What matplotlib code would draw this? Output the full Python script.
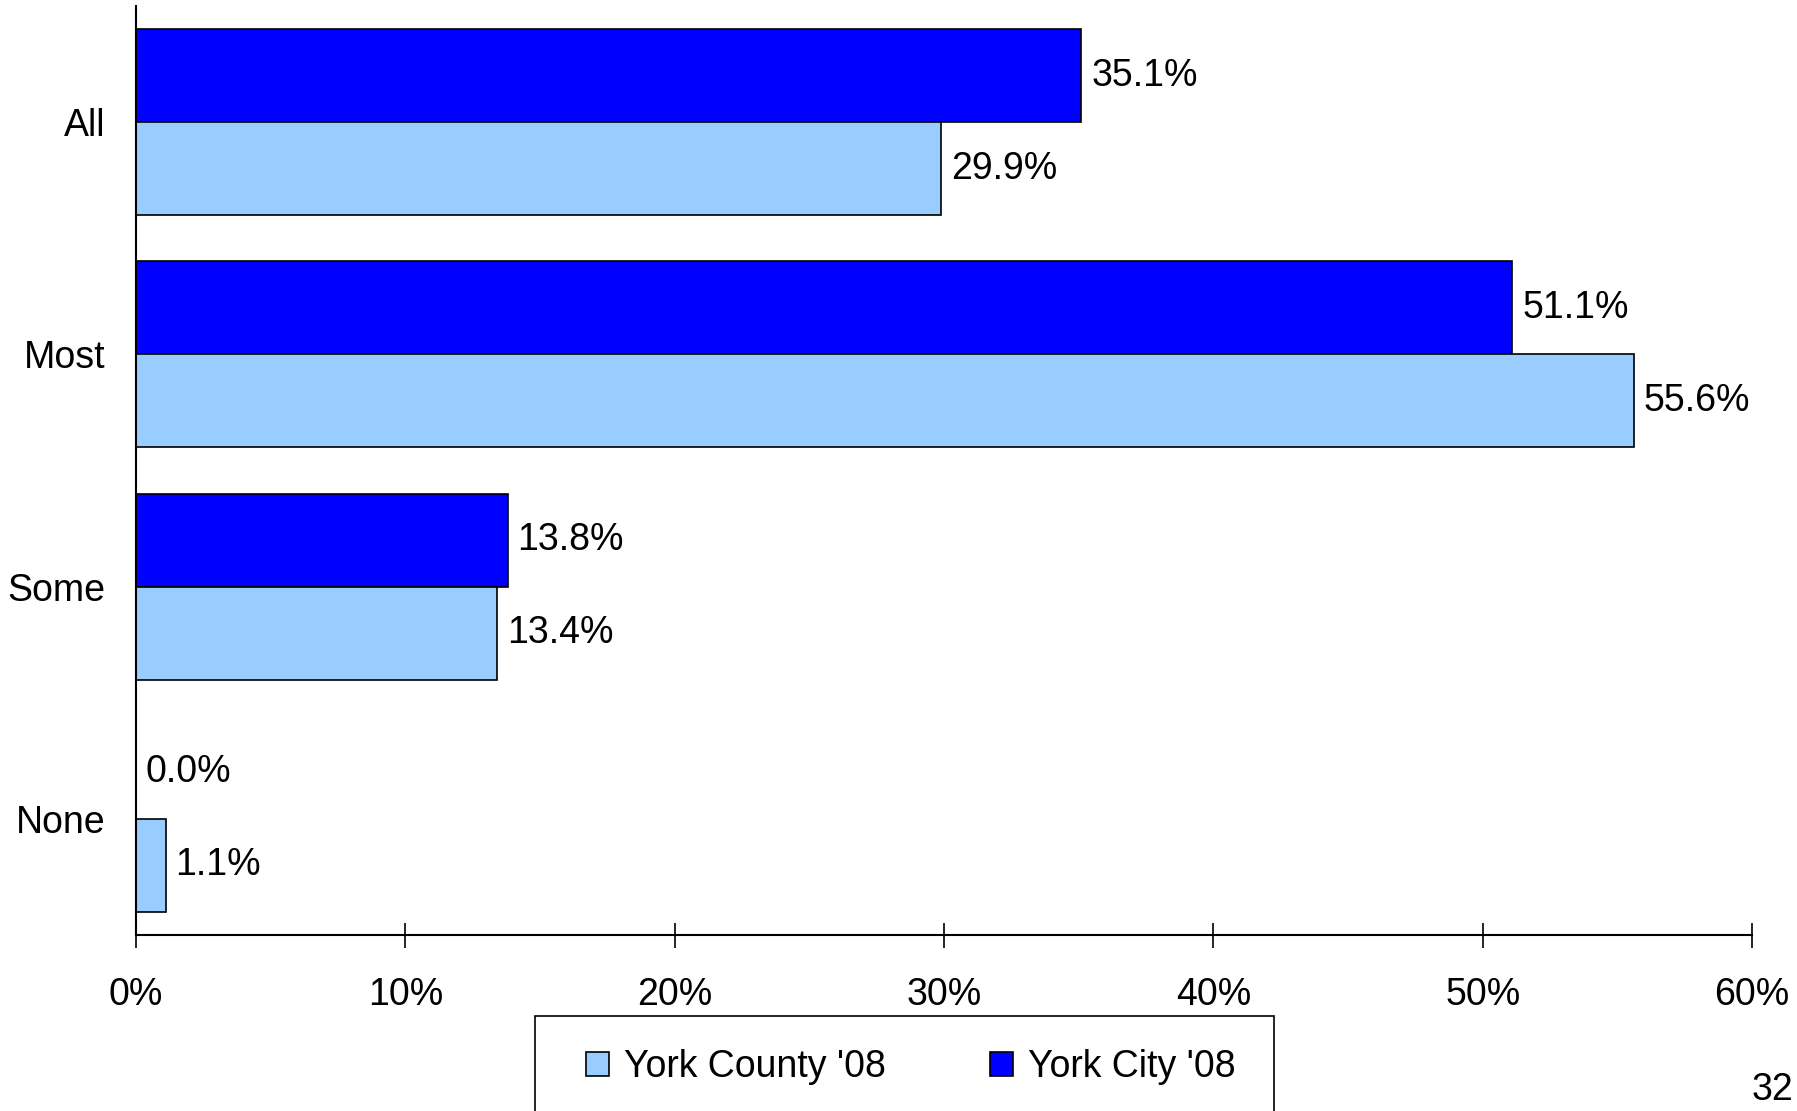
import matplotlib
matplotlib.use("Agg")
import matplotlib.pyplot as plt
from matplotlib.patches import Rectangle
import numpy as np

plt.rcParams['font.family'] = ['Liberation Sans', 'DejaVu Sans']

categories = ["All", "Most", "Some", "None"]
county = [29.9, 55.6, 13.4, 1.1]
city = [35.1, 51.1, 13.8, 0.0]
series_names = ["York County '08", "York City '08"]
xticks = [0, 10, 20, 30, 40, 50, 60]

c_county = '#99CCFF'
c_city = '#0000FF'
FS = 27

W, H = 1797, 1111
fig = plt.figure(figsize=(W / 100, H / 100), dpi=100)
ax = fig.add_axes([0.0757, 0.1584, 0.975 - 0.0757, 0.9946 - 0.1584])

y = np.arange(len(categories))
h = 0.4
b_city = ax.barh(y - h / 2, city, height=h, color=c_city, edgecolor='black', linewidth=1.2, label=series_names[1])
b_county = ax.barh(y + h / 2, county, height=h, color=c_county, edgecolor='black', linewidth=1.2, label=series_names[0])

for bars, vals in ((b_city, city), (b_county, county)):
    for rect, v in zip(bars, vals):
        ax.annotate(f"{v:.1f}%", (v, rect.get_y() + rect.get_height() / 2),
                    xytext=(7, 0), textcoords='offset points',
                    ha='left', va='center', fontsize=FS)

ax.set_xlim(0, 60)
ax.set_ylim(3.5, -0.5)
ax.set_xticks(xticks)
ax.set_xticklabels([f"{t}%" for t in xticks])
ax.set_yticks(y)
ax.set_yticklabels(categories)
ax.tick_params(axis='y', length=0, pad=22, labelsize=FS)
ax.tick_params(axis='x', direction='inout', length=18, width=1.2, pad=21, labelsize=FS)
for s in ('top', 'right'):
    ax.spines[s].set_visible(False)
for s in ('left', 'bottom'):
    ax.spines[s].set_linewidth(1.5)

# legend frame (box runs past the bottom edge as in the reference)
fig.patches.append(Rectangle((535 / W, -0.012), 739 / W, 0.012 + 1 - 1016 / H,
                             transform=fig.transFigure, facecolor='white',
                             edgecolor='black', linewidth=1.2, zorder=1))
leg = fig.legend(handles=[b_county, b_city], labels=series_names,
                 loc='center left', bbox_to_anchor=(586 / W, 1 - 1067 / H),
                 ncol=2, fontsize=FS, frameon=False,
                 handlelength=0.6, handleheight=0.6,
                 handletextpad=0.4, borderpad=0, columnspacing=2.8, borderaxespad=0)
leg.set_zorder(2)

fig.text(1752 / W, 1 - 1100 / H, "32", fontsize=FS, ha='left', va='baseline')

fig.savefig("out.png", dpi=100)
